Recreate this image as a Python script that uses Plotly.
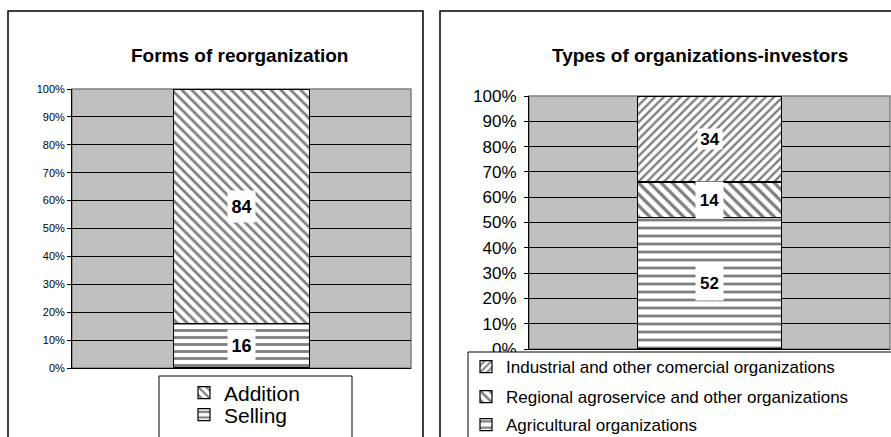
import plotly.graph_objects as go

# ---- data ----
left_title = "Forms of reorganization"
left_series = ["Selling", "Addition"]
left_values = [16, 84]
left_patterns = ["-", "\\"]

right_title = "Types of organizations-investors"
right_series = ["Agricultural organizations",
                "Regional agroservice and other organizations",
                "Industrial and other comercial organizations"]
right_values = [52, 14, 34]
right_patterns = ["-", "\\", "/"]

tick_vals = [0, 10, 20, 30, 40, 50, 60, 70, 80, 90, 100]
tick_text = [f"{v}%" for v in tick_vals]
category = ["Total"]

W, H = 891, 437
FONT = "Liberation Sans, Arial, sans-serif"

def px(x):
    return x / W

def py(y):
    return 1 - y / H

fig = go.Figure()

left_pat_size = {"-": 7, "\\": 7}
right_pat_size = {"-": 8, "\\": 8, "/": 6}
left_pat_sol = {"-": 0.4, "\\": 0.4}
right_pat_sol = {"-": 0.35, "\\": 0.4, "/": 0.4}

left_legend_rows = {"Addition": 393, "Selling": 415}
right_legend_rows = {"Industrial and other comercial organizations": 367,
                     "Regional agroservice and other organizations": 397,
                     "Agricultural organizations": 425}

legend_layouts = {}
lid = 1
for name, val, pat in zip(left_series, left_values, left_patterns):
    key = "legend" if lid == 1 else f"legend{lid}"
    legend_layouts[key] = dict(x=px(184), y=py(left_legend_rows[name]), xanchor="left",
                               yanchor="middle", bgcolor="rgba(0,0,0,0)", borderwidth=0,
                               font=dict(family=FONT, size=21, color="black"), itemwidth=30)
    fig.add_trace(go.Bar(
        x=category, y=[val], name=name, xaxis="x", yaxis="y", legend=key,
        marker=dict(color="white", line=dict(color="black", width=1.2),
                    pattern=dict(shape=pat, fgcolor="black", bgcolor="white",
                                 size=left_pat_size[pat], solidity=left_pat_sol[pat])),
        hoverinfo="skip",
    ))
    lid += 1

for name, val, pat in zip(right_series, right_values, right_patterns):
    key = f"legend{lid}"
    legend_layouts[key] = dict(x=px(466), y=py(right_legend_rows[name]), xanchor="left",
                               yanchor="middle", bgcolor="rgba(0,0,0,0)", borderwidth=0,
                               font=dict(family=FONT, size=17, color="black"), itemwidth=30)
    fig.add_trace(go.Bar(
        x=category, y=[val], name=name, xaxis="x2", yaxis="y2", legend=key,
        marker=dict(color="white", line=dict(color="black", width=1.2),
                    pattern=dict(shape=pat, fgcolor="black", bgcolor="white",
                                 size=right_pat_size[pat], solidity=right_pat_sol[pat])),
        hoverinfo="skip",
    ))
    lid += 1

annotations = []
cum = 0
for val in left_values:
    annotations.append(dict(x=category[0], y=cum + val / 2, xref="x", yref="y",
                            text=f"<b>{val}</b>", showarrow=False,
                            font=dict(family=FONT, size=18, color="black"),
                            bgcolor="white", width=27, height=31, borderpad=0))
    cum += val
cum = 0
label_boxes = {52: (27, 34), 14: (27, 36), 34: (24, 20)}
for val in right_values:
    w, h = label_boxes.get(val, (26, 24))
    annotations.append(dict(x=category[0], y=cum + val / 2, xref="x2", yref="y2",
                            text=f"<b>{val}</b>", showarrow=False,
                            font=dict(family=FONT, size=17, color="black"),
                            bgcolor="white", width=w, height=h, borderpad=0))
    cum += val

annotations.append(dict(x=px(239), y=py(55), xref="paper", yref="paper",
                        xanchor="center", yanchor="middle",
                        text=f"<b>{left_title}</b>", showarrow=False,
                        font=dict(family=FONT, size=19, color="black")))
annotations.append(dict(x=px(700), y=py(55), xref="paper", yref="paper",
                        xanchor="center", yanchor="middle",
                        text=f"<b>{right_title}</b>", showarrow=False,
                        font=dict(family=FONT, size=19, color="black")))

shapes = [
    dict(type="rect", xref="paper", yref="paper", x0=px(8), x1=px(423), y0=py(460), y1=py(11),
         line=dict(color="black", width=1.5), fillcolor="rgba(0,0,0,0)", layer="below"),
    dict(type="rect", xref="paper", yref="paper", x0=px(440), x1=px(920), y0=py(460), y1=py(11),
         line=dict(color="black", width=1.5), fillcolor="rgba(0,0,0,0)", layer="below"),
    dict(type="rect", xref="x domain", yref="y domain", x0=0, x1=1, y0=0, y1=1,
         line=dict(color="#808080", width=1.5), layer="below"),
    dict(type="rect", xref="x2 domain", yref="y2 domain", x0=0, x1=1, y0=0, y1=1,
         line=dict(color="#808080", width=1.5), layer="below"),
    dict(type="rect", xref="paper", yref="paper", x0=px(159), x1=px(352), y0=py(460), y1=py(376),
         line=dict(color="black", width=1), fillcolor="white", layer="above"),
    dict(type="rect", xref="paper", yref="paper", x0=px(468), x1=px(920), y0=py(460), y1=py(352),
         line=dict(color="black", width=1), fillcolor="white", layer="above"),
]

axis_y_common = dict(range=[0, 100], tickvals=tick_vals, ticktext=tick_text,
                     showgrid=True, gridcolor="black", gridwidth=1,
                     showline=True, linecolor="black", linewidth=1,
                     ticks="outside", ticklen=4, tickcolor="black",
                     zeroline=False, fixedrange=True)
axis_x_common = dict(showticklabels=False, ticks="", showgrid=False,
                     range=[-0.5, 0.5],
                     showline=True, linecolor="black", linewidth=1.2,
                     zeroline=False, fixedrange=True)

fig.update_layout(
    width=W, height=H,
    margin=dict(l=0, r=0, t=0, b=0, autoexpand=False),
    paper_bgcolor="white",
    plot_bgcolor="#C0C0C0",
    barmode="stack",
    bargap=0.6,
    showlegend=True,
    font=dict(family=FONT, color="black"),
    xaxis=dict(domain=[px(72), px(411)], anchor="y", **axis_x_common),
    yaxis=dict(domain=[py(368), py(89)], anchor="x",
               tickfont=dict(family=FONT, size=11, color="black"), **axis_y_common),
    xaxis2=dict(domain=[px(529), px(890)], anchor="y2", **axis_x_common),
    yaxis2=dict(domain=[py(349), py(96)], anchor="x2", ticklabelstandoff=4,
                tickfont=dict(family=FONT, size=17, color="black"), **axis_y_common),
    annotations=annotations,
    shapes=shapes,
    **legend_layouts,
)

fig.write_html("out.html", config={"displayModeBar": False},
               post_script="document.body.style.margin='0';document.body.style.overflow='hidden';")
